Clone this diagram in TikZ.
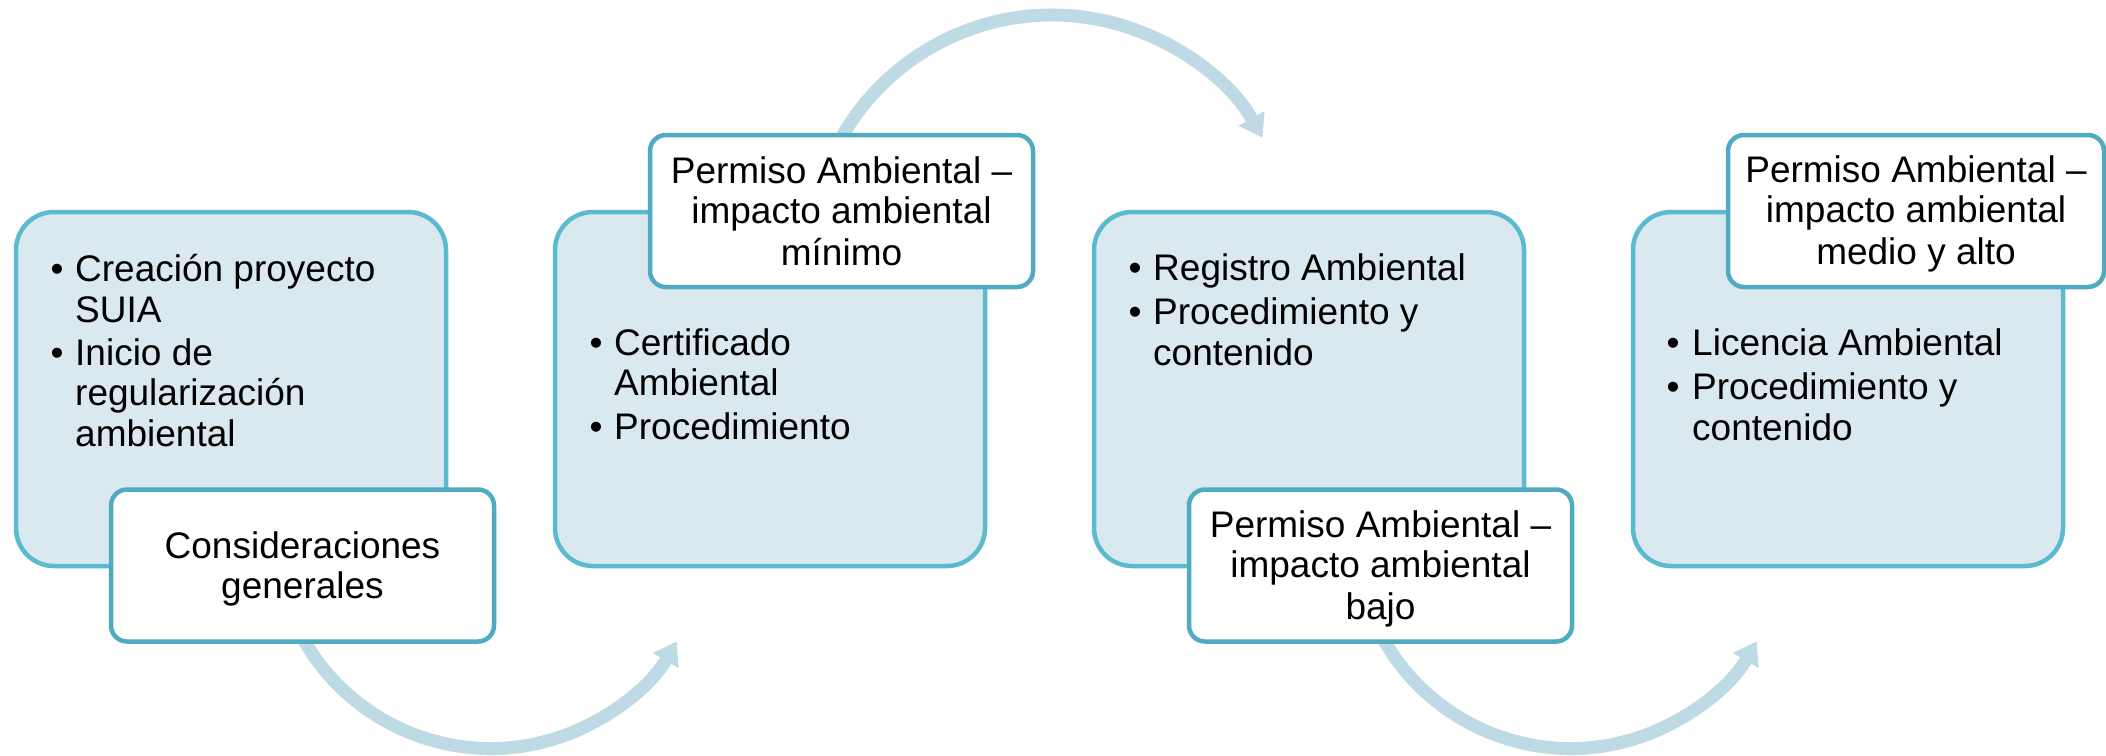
\documentclass[tikz,border=0pt]{standalone}
\usepackage{fontspec}
\setmainfont{Liberation Sans}
\usetikzlibrary{arrows.meta}
\definecolor{bigfill}{HTML}{DAE9EF}
\definecolor{bigline}{HTML}{5BB9D0}
\definecolor{smallline}{HTML}{50ABC2}
\definecolor{arccol}{HTML}{BEDBE5}
\newcommand{\stt}{\rule[-6pt]{0pt}{39pt}}
\begin{document}
\begin{tikzpicture}[x=1pt,y=-1pt,
  bigbox/.style={draw=bigline, fill=bigfill, line width=4.5pt, rounded corners=38pt,
    minimum width=430pt, minimum height=354pt, inner sep=0pt},
  smallbox/.style={draw=smallline, fill=white, line width=4.5pt, rounded corners=16pt,
    minimum height=152pt, inner sep=0pt, align=center, font=\fontsize{37}{40}\selectfont},
  itemtext/.style={anchor=north west, inner sep=0pt, align=left, font=\fontsize{37}{40}\selectfont},
  bul/.style={anchor=base, inner sep=0pt, font=\fontsize{37}{40}\selectfont},
  arcarrow/.style={draw=arccol, line width=13pt,
    -{Triangle[length=22pt,width=30pt,line width=0pt]}}
]
\useasboundingbox (0,0) rectangle (2106,755);

% curved arrows (behind the boxes)
\coordinate (a1s) at (288.5,606.9);
\draw[arcarrow] (a1s) arc[start angle=160, end angle=30.2, radius=215.2];
\coordinate (a2s) at (818.2,194.4);
\draw[arcarrow] (a2s) arc[start angle=-165, end angle=-29.6, radius=242];
\coordinate (a3s) at (1368.5,606.9);
\draw[arcarrow] (a3s) arc[start angle=160, end angle=30.2, radius=215.2];

% big boxes
\node[bigbox] (b1) at (231,389) {};
\node[bigbox] (b2) at (770,389) {};
\node[bigbox] (b3) at (1309,389) {};
\node[bigbox] (b4) at (1848,389) {};

% small title boxes
\node[smallbox, minimum width=383pt] (s1) at (302.5,565.5)
  {\stt Consideraciones\\\stt generales};
\node[smallbox, minimum width=383pt] (s2) at (841.5,211)
  {\stt Permiso Ambiental –\\\stt impacto ambiental\\\stt mínimo};
\node[smallbox, minimum width=383pt] (s3) at (1380.5,565.5)
  {\stt Permiso Ambiental –\\\stt impacto ambiental\\\stt bajo};
\node[smallbox, minimum width=376pt] (s4) at (1916,211)
  {\stt Permiso Ambiental –\\\stt impacto ambiental\\\stt medio y alto};

% box 1 bullets
\node[bul] (p11) at (57,281) {•};
\node[itemtext] (t11) at (75,248) {\stt Creación proyecto\\\stt SUIA};
\node[bul] (p12) at (57,365) {•};
\node[itemtext] (t12) at (75,332) {\stt Inicio de\\\stt regularización\\\stt ambiental};

% box 2 bullets
\node[bul] (p21) at (596,355) {•};
\node[itemtext] (t21) at (614,322) {\stt Certificado\\\stt Ambiental};
\node[bul] (p22) at (596,439) {•};
\node[itemtext] (t22) at (614,406) {\stt Procedimiento};

% box 3 bullets
\node[bul] (p31) at (1135,280) {•};
\node[itemtext] (t31) at (1153,247) {\stt Registro Ambiental};
\node[bul] (p32) at (1135,324) {•};
\node[itemtext] (t32) at (1153,291) {\stt Procedimiento y\\\stt contenido};

% box 4 bullets
\node[bul] (p41) at (1673,355) {•};
\node[itemtext] (t41) at (1692,322) {\stt Licencia Ambiental};
\node[bul] (p42) at (1673,399) {•};
\node[itemtext] (t42) at (1692,366) {\stt Procedimiento y\\\stt contenido};
\end{tikzpicture}
\end{document}
